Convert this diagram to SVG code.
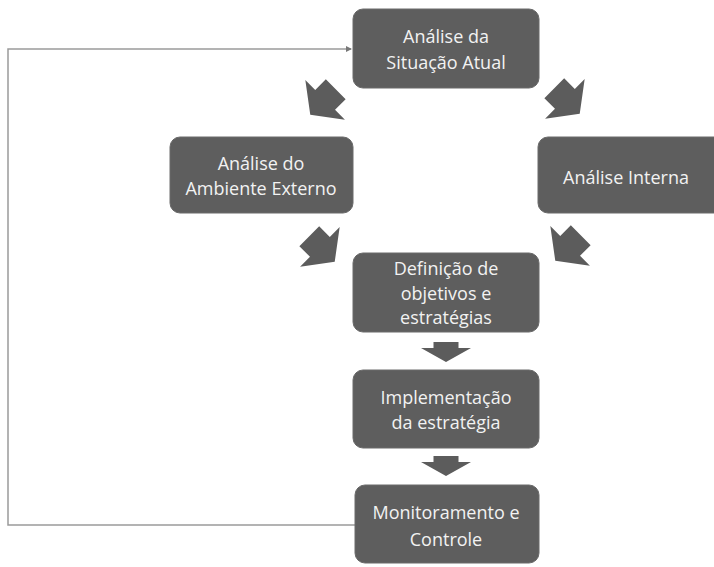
<svg xmlns="http://www.w3.org/2000/svg" width="714" height="567" viewBox="0 0 714 567">
<style>
.box{fill:#5e5e5e;stroke:#6a6a6a;stroke-width:1}
.t{font-family:"Open Sans","Noto Sans",sans-serif;font-size:18px;fill:#f2f2f2;text-anchor:middle}
.blk{fill:#5c5c5c}
.ln{fill:none;stroke:#9a9a9a;stroke-width:1.5}
</style>
<defs>
<polygon id="diag" points="-14,-18 14,-18 14,-3 28,-3 0,18 -28,-3 -14,-3"/>
<polygon id="down" points="-12.5,-10 12.5,-10 12.5,-4 25,-4 0,10 -25,-4 -12.5,-4"/>
<marker id="ah" markerWidth="6" markerHeight="6" refX="5" refY="3" orient="auto" markerUnits="userSpaceOnUse">
<path d="M0,0 L6,3 L0,6 z" fill="#777"/>
</marker>
</defs>
<rect width="714" height="567" fill="#ffffff"/>
<g id="connectors">
<polyline class="ln" points="355,525 8,525 8,49 351,49" marker-end="url(#ah)"/>
<use href="#diag" class="blk" transform="translate(323,102) rotate(45)"/>
<use href="#diag" class="blk" transform="translate(567,101) rotate(-45)"/>
<use href="#diag" class="blk" transform="translate(322,249) rotate(-45)"/>
<use href="#diag" class="blk" transform="translate(568,248) rotate(45)"/>
<use href="#down" class="blk" transform="translate(446,352)"/>
<use href="#down" class="blk" transform="translate(446,466)"/>
</g>
<g id="n1">
<rect class="box" x="353" y="9" width="186" height="79" rx="10"/>
<text class="t" x="446" y="43">Análise da</text>
<text class="t" x="446" y="69">Situação Atual</text>
</g>
<g id="n2">
<rect class="box" x="170" y="137" width="183" height="76" rx="10"/>
<text class="t" x="261" y="170">Análise do</text>
<text class="t" x="261" y="195">Ambiente Externo</text>
</g>
<g id="n3">
<rect class="box" x="538" y="137" width="186" height="76" rx="10"/>
<text class="t" x="626" y="184">Análise Interna</text>
</g>
<g id="n4">
<rect class="box" x="353" y="253" width="186" height="79" rx="10"/>
<text class="t" x="446" y="275">Definição de</text>
<text class="t" x="446" y="299.5">objetivos e</text>
<text class="t" x="446" y="324">estratégias</text>
</g>
<g id="n5">
<rect class="box" x="353" y="370" width="186" height="78" rx="10"/>
<text class="t" x="446" y="404">Implementação</text>
<text class="t" x="446" y="429">da estratégia</text>
</g>
<g id="n6">
<rect class="box" x="355" y="485" width="184" height="78" rx="10"/>
<text class="t" x="446" y="519">Monitoramento e</text>
<text class="t" x="446" y="546">Controle</text>
</g>
</svg>
